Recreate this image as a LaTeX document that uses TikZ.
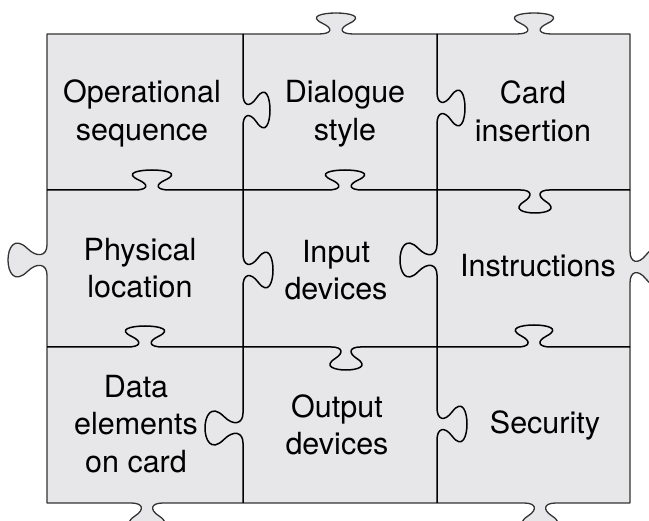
\documentclass[tikz,border=0pt]{standalone}
\usepackage{fontspec}
\setmainfont{TeX Gyre Heros}
\definecolor{piecefill}{RGB}{231,230,232}

% Knob on a horizontal edge: centre x, edge y, signed width (sign = direction of travel),
% signed height (negative = towards the top of the picture)
\newcommand\hknob[4]{%
 -- ({#1-0.4*(#3)},{#2})
 .. controls ({#1-0.1*(#3)},{#2}) and ({#1-0.05*(#3)},{#2+0.25*(#4)}) .. ({#1-0.3*(#3)},{#2+0.5*(#4)})
 .. controls ({#1-0.65*(#3)},{#2+0.85*(#4)}) and ({#1-0.3*(#3)},{#2+(#4)}) .. ({#1},{#2+(#4)})
 .. controls ({#1+0.3*(#3)},{#2+(#4)}) and ({#1+0.65*(#3)},{#2+0.85*(#4)}) .. ({#1+0.3*(#3)},{#2+0.5*(#4)})
 .. controls ({#1+0.05*(#3)},{#2+0.25*(#4)}) and ({#1+0.1*(#3)},{#2}) .. ({#1+0.4*(#3)},{#2})
}
% Knob on a vertical edge: edge x, centre y, signed width (sign = direction of travel),
% signed height (negative = towards the left)
\newcommand\vknob[4]{%
 -- ({#1},{#2-0.4*(#3)})
 .. controls ({#1},{#2-0.1*(#3)}) and ({#1+0.25*(#4)},{#2-0.05*(#3)}) .. ({#1+0.5*(#4)},{#2-0.3*(#3)})
 .. controls ({#1+0.85*(#4)},{#2-0.65*(#3)}) and ({#1+(#4)},{#2-0.3*(#3)}) .. ({#1+(#4)},{#2})
 .. controls ({#1+(#4)},{#2+0.3*(#3)}) and ({#1+0.85*(#4)},{#2+0.65*(#3)}) .. ({#1+0.5*(#4)},{#2+0.3*(#3)})
 .. controls ({#1+0.25*(#4)},{#2+0.05*(#3)}) and ({#1},{#2+0.1*(#3)}) .. ({#1},{#2+0.4*(#3)})
}

\tikzset{
  outline/.style={draw=black!80, line width=1.3pt, fill=piecefill, line join=round},
  seam/.style={draw=black, line width=1.5pt, line join=round},
  label/.style={inner sep=0pt, align=center, font=\fontsize{30.5}{37.5}\selectfont}
}

\begin{document}
\begin{tikzpicture}[x=1pt, y=-1pt]
\useasboundingbox (0,0) rectangle (649,521);
\clip (0,0) rectangle (649,521);

% outer boundary of the assembled puzzle
\path[outline] (47,34)
  \hknob{336}{34}{44}{-21}
  \hknob{534}{34}{44}{-21}
  -- (630,34)
  \vknob{630}{267}{40}{32}
  -- (630,503)
  \hknob{540}{503}{-40}{26}
  \hknob{147}{503}{-40}{26}
  -- (47,503)
  \vknob{47}{260}{-38}{-39}
  -- cycle;

% vertical seams
\draw[seam] (243,34) \vknob{243}{110}{40}{27} \vknob{243}{270}{40}{30} \vknob{243}{428}{38}{-38} -- (243,503);
\draw[seam] (437,34) \vknob{437}{108}{40}{28} \vknob{437}{260}{38}{-37} \vknob{437}{424}{40}{30} -- (437,503);

% horizontal seams
\draw[seam] (47,190) \hknob{152}{190}{44}{-20} \hknob{345}{190}{44}{-20} \hknob{535}{190}{36}{23} -- (630,190);
\draw[seam] (47,347) \hknob{145}{347}{44}{-21} \hknob{346}{347}{36}{23} \hknob{534}{347}{42}{-22} -- (630,347);

% piece labels
\node[label] (opseq)    at (142,113.5) {Operational\\sequence};
\node[label] (dialogue) at (345,113.5) {Dialogue\\style};
\node[label] (card)     at (533,111.5) {Card\\insertion};
\node[label] (location) at (140,268)   {Physical\\location};
\node[label] (input)    at (336,270)   {Input\\devices};
\node[label] (instr)    at (538,266)   {Instructions};
\node[label] (data)     at (136,424)   {Data\\elements\\on card};
\node[label] (output)   at (337,425)   {Output\\devices};
\node[label] (security) at (545,425)   {Security};
\end{tikzpicture}
\end{document}
